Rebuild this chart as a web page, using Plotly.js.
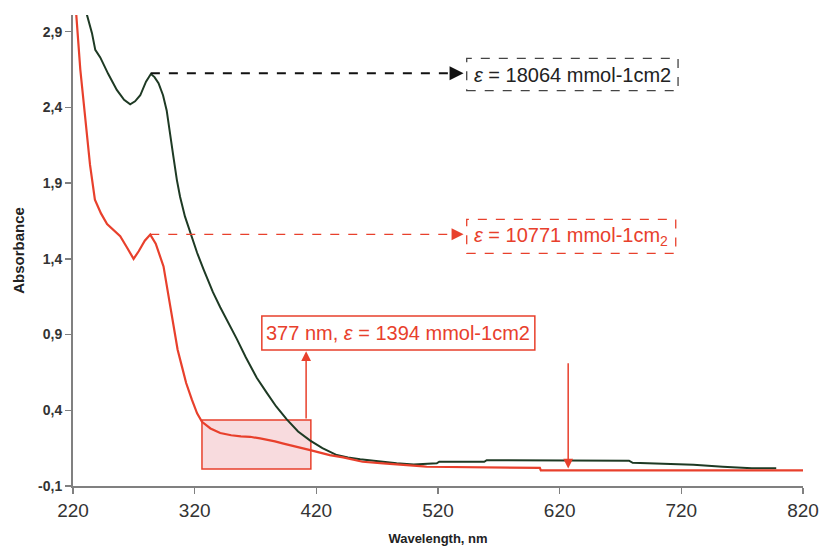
<!DOCTYPE html>
<html>
<head>
<meta charset="utf-8">
<script src="https://cdn.plot.ly/plotly-3.0.1.min.js"></script>
<style>html,body{margin:0;padding:0;background:#fff;}#chart{width:821px;height:552px;}</style>
</head>
<body>
<div id="chart"></div>
<script>
// Sample 1 (dark green) spectrum
const greenWl = [226, 231.5, 235.6, 238.3, 242.4, 249, 256, 262, 267, 271, 275.3, 280, 284, 287, 290.3, 294, 297, 300, 302.6, 305.4, 308, 312, 316.3, 322, 327.3, 335, 341, 348, 354.7, 362, 371, 379.3, 387, 395.7, 405, 415, 425, 436.8, 446, 456, 470, 486, 500, 519, 521, 540, 558, 560, 600, 640, 677, 680, 708, 730, 754, 778, 798];
const greenAbs = [3.3, 3.01, 2.89, 2.78, 2.73, 2.62, 2.515, 2.45, 2.42, 2.44, 2.48, 2.57, 2.62, 2.60, 2.56, 2.48, 2.38, 2.2, 2.07, 1.92, 1.81, 1.68, 1.57, 1.44, 1.33, 1.18, 1.08, 0.975, 0.87, 0.75, 0.615, 0.515, 0.425, 0.34, 0.26, 0.20, 0.15, 0.104, 0.088, 0.076, 0.062, 0.05, 0.042, 0.05, 0.06, 0.06, 0.06, 0.07, 0.07, 0.068, 0.067, 0.053, 0.045, 0.04, 0.027, 0.018, 0.018];

// Sample 2 (red) spectrum
const redWl = [220, 222.7, 226, 230, 234, 238, 243, 248, 253, 258.8, 264, 269.8, 274, 279, 283.5, 288, 294.4, 298, 302.6, 306, 309.5, 313, 317.7, 322, 326, 333, 341, 350, 358, 365.6, 373.8, 380, 386, 393, 398.5, 405, 415, 423, 431, 442, 458, 475, 499, 508, 510.7, 540, 580, 603.7, 604.5, 650, 700, 750, 800, 820];
const redAbs = [3.25, 3.01, 2.65, 2.32, 2.02, 1.79, 1.70, 1.63, 1.59, 1.55, 1.48, 1.40, 1.45, 1.52, 1.56, 1.50, 1.35, 1.18, 0.95, 0.80, 0.69, 0.58, 0.47, 0.38, 0.324, 0.28, 0.25, 0.235, 0.228, 0.225, 0.214, 0.205, 0.195, 0.18, 0.17, 0.155, 0.137, 0.12, 0.104, 0.089, 0.06, 0.05, 0.038, 0.03, 0.027, 0.025, 0.022, 0.02, 0.003, 0.003, 0.003, 0.003, 0.003, 0.003];

// Axis ticks
const xTicks = [220, 320, 420, 520, 620, 720, 820];
const yTicks = [-0.1, 0.4, 0.9, 1.4, 1.9, 2.4, 2.9];
const yTickText = ["-0,1", "0,4", "0,9", "1,4", "1,9", "2,4", "2,9"];

// Annotation texts
const labelGreen = "<i>ε</i> = 18064 mmol-1cm2";
const labelRed = "<i>ε</i> = 10771 mmol-1cm<sub>2</sub>";
const labelBand = "377 nm, <i>ε</i> = 1394 mmol-1cm2";

const RED = "#e8402c";
const GREEN = "#1e3a24";
const FONT = "Liberation Sans, Arial, sans-serif";

const traces = [
  {x: greenWl, y: greenAbs, type: "scatter", mode: "lines", line: {color: GREEN, width: 2}, hoverinfo: "skip"},
  {x: redWl, y: redAbs, type: "scatter", mode: "lines", line: {color: RED, width: 2.2}, hoverinfo: "skip"}
];

const shapes = [
  {type: "rect", xref: "x", yref: "y", x0: 326, x1: 415.5, y0: 0.012, y1: 0.335, fillcolor: "rgba(225,90,105,0.22)", line: {color: RED, width: 1.5}, layer: "below"},
  {type: "line", xref: "x", yref: "y", x0: 284, x1: 536, y0: 2.625, y1: 2.625, line: {color: "#111", width: 2, dash: "dash"}},
  {type: "line", xref: "x", yref: "y", x0: 283.5, x1: 536, y0: 1.562, y1: 1.562, line: {color: RED, width: 1.3, dash: "dash"}},
  {type: "rect", xref: "x", yref: "y", x0: 543.6, x1: 717.3, y0: 2.51, y1: 2.724, line: {color: "#444", width: 1.3, dash: "dash"}},
  {type: "rect", xref: "x", yref: "y", x0: 543.6, x1: 715.4, y0: 1.436, y1: 1.661, line: {color: RED, width: 1.3, dash: "dash"}},
  {type: "rect", xref: "x", yref: "y", x0: 375.2, x1: 599.6, y0: 0.798, y1: 1.022, fillcolor: "#fff", line: {color: RED, width: 1.5}}
];

const annotations = [
  {x: 541, y: 2.625, xref: "x", yref: "y", ax: -10, ay: 0, text: "", showarrow: true, arrowhead: 2, arrowsize: 1.4, arrowwidth: 2, arrowcolor: "#111"},
  {x: 541, y: 1.562, xref: "x", yref: "y", ax: -10, ay: 0, text: "", showarrow: true, arrowhead: 2, arrowsize: 1.6, arrowwidth: 1.5, arrowcolor: RED},
  {x: 630.5, y: 2.617, xref: "x", yref: "y", text: labelGreen, showarrow: false, font: {family: FONT, size: 20, color: "#222"}},
  {x: 629.5, y: 1.548, xref: "x", yref: "y", text: labelRed, showarrow: false, font: {family: FONT, size: 20, color: RED}},
  {x: 487.4, y: 0.91, xref: "x", yref: "y", text: labelBand, showarrow: false, font: {family: FONT, size: 20, color: RED}},
  {x: 411.6, y: 0.79, xref: "x", yref: "y", ax: 411.6, ay: 0.335, axref: "x", ayref: "y", text: "", showarrow: true, arrowhead: 2, arrowsize: 1.3, arrowwidth: 1.5, arrowcolor: RED},
  {x: 627, y: 0.016, xref: "x", yref: "y", ax: 627, ay: 0.72, axref: "x", ayref: "y", text: "", showarrow: true, arrowhead: 2, arrowsize: 1.3, arrowwidth: 1.5, arrowcolor: RED}
];

const layout = {
  width: 821, height: 552,
  margin: {l: 73, r: 18, t: 15, b: 66, pad: 0},
  paper_bgcolor: "#fff", plot_bgcolor: "#fff",
  showlegend: false,
  font: {family: FONT},
  xaxis: {
    range: [220, 820], tickvals: xTicks, ticktext: xTicks.map(String),
    showgrid: false, zeroline: false, showline: true, linecolor: "#808080", linewidth: 2,
    ticks: "outside", ticklen: 6, tickwidth: 1.5, tickcolor: "#808080",
    tickfont: {family: FONT, size: 19, color: "#333"},
    title: {text: "<b>Wavelength, nm</b>", font: {family: FONT, size: 13, color: "#222"}, standoff: 14}
  },
  yaxis: {
    range: [-0.1, 3.01], tickvals: yTicks, ticktext: yTickText,
    showgrid: false, zeroline: false, showline: true, linecolor: "#808080", linewidth: 2,
    ticks: "outside", ticklen: 6, tickwidth: 1.5, tickcolor: "#808080",
    tickfont: {family: FONT, size: 14, color: "#333", weight: "bold"},
    title: {text: "<b>Absorbance</b>", font: {family: FONT, size: 15, color: "#222"}, standoff: 10}
  },
  shapes: shapes,
  annotations: annotations
};

Plotly.newPlot("chart", traces, layout, {staticPlot: true, displayModeBar: false});
</script>
</body>
</html>
